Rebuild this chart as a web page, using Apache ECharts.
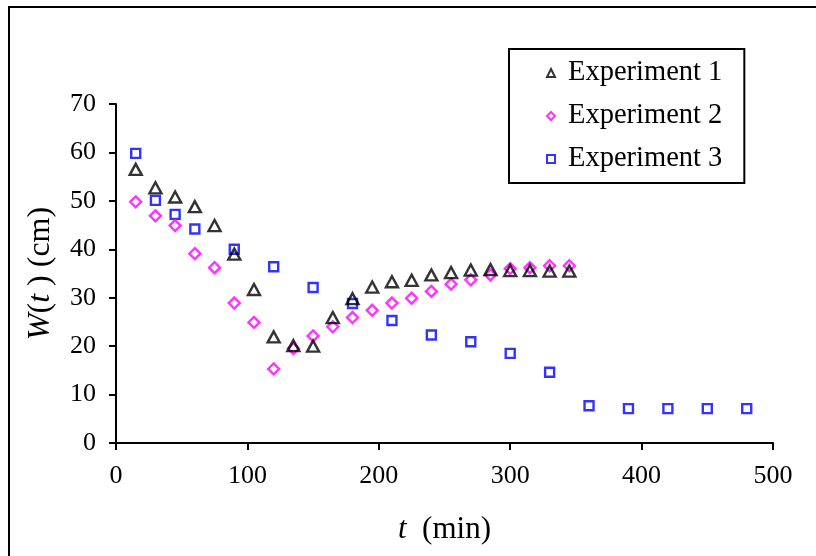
<!DOCTYPE html>
<html>
<head>
<meta charset="utf-8">
<script src="https://cdn.jsdelivr.net/npm/echarts@6/dist/echarts.min.js"></script>
<style>
  html, body { margin: 0; padding: 0; background: #ffffff; }
  #chart { width: 816px; height: 556px; }
</style>
</head>
<body>
<div id="chart"></div>
<script>
// Measured water level W(t) during three runs, t in minutes
const exp1Time = [15, 30, 45, 60, 75, 90, 105, 120, 135, 150, 165, 180, 195, 210, 225, 240, 255, 270, 285, 300, 315, 330, 345];
const exp1W    = [56.5, 52.7, 50.8, 48.8, 44.9, 39.0, 31.7, 21.9, 20.1, 20.0, 25.9, 29.8, 32.2, 33.3, 33.6, 34.7, 35.2, 35.7, 35.8, 35.6, 35.6, 35.5, 35.5];

const exp2Time = [15, 30, 45, 60, 75, 90, 105, 120, 135, 150, 165, 180, 195, 210, 225, 240, 255, 270, 285, 300, 315, 330, 345];
const exp2W    = [49.8, 46.9, 44.9, 39.1, 36.2, 28.9, 24.9, 15.3, 19.5, 22.1, 24.0, 25.9, 27.4, 28.9, 29.9, 31.3, 32.8, 33.7, 34.7, 36.0, 36.2, 36.6, 36.6];

const exp3Time = [15, 30, 45, 60, 90, 120, 150, 180, 210, 240, 270, 300, 330, 360, 390, 420, 450, 480];
const exp3W    = [59.8, 50.1, 47.2, 44.2, 40.0, 36.4, 32.1, 28.8, 25.3, 22.3, 20.9, 18.5, 14.6, 7.7, 7.1, 7.1, 7.1, 7.1];

const seriesNames = ['Experiment 1', 'Experiment 2', 'Experiment 3'];
const xTicks = [0, 100, 200, 300, 400, 500];
const yTicks = [0, 10, 20, 30, 40, 50, 60, 70];

const pairs = (xs, ys) => xs.map((x, i) => [x, ys[i]]);
const serif = '"Liberation Serif", "Times New Roman", serif';
const hollow = c => ({ color: 'rgba(0,0,0,0)', borderColor: c, borderWidth: 2.4 });

const chart = echarts.init(document.getElementById('chart'), null, { renderer: 'canvas' });

chart.setOption({
  backgroundColor: '#ffffff',
  animation: false,
  graphic: [{
    type: 'rect',
    shape: { x: 9, y: 7, width: 1000, height: 1000 },
    style: { fill: 'none', stroke: '#000', lineWidth: 2 },
    silent: true,
    z: 0
  }],
  grid: { left: 116, right: 43, top: 104, bottom: 113, containLabel: false },
  xAxis: {
    type: 'value',
    min: xTicks[0], max: xTicks[xTicks.length - 1], interval: 100,
    name: '{i|t}  (min)',
    nameLocation: 'middle',
    nameGap: 71,
    nameTextStyle: {
      fontFamily: serif, fontSize: 31, color: '#000',
      rich: { i: { fontFamily: serif, fontSize: 31, fontStyle: 'italic', color: '#000' } }
    },
    axisLine: { show: true, lineStyle: { color: '#000', width: 2 } },
    axisTick: { show: true, inside: false, length: 7, lineStyle: { color: '#000', width: 2 } },
    axisLabel: { margin: 20, fontFamily: serif, fontSize: 26, color: '#000' },
    splitLine: { show: false }
  },
  yAxis: {
    type: 'value',
    min: yTicks[0], max: yTicks[yTicks.length - 1], interval: 10,
    name: '{i|W}({i|t} ) (cm)',
    nameLocation: 'middle',
    nameGap: 59,
    nameTextStyle: {
      fontFamily: serif, fontSize: 32, color: '#000',
      rich: { i: { fontFamily: serif, fontSize: 32, fontStyle: 'italic', color: '#000' } }
    },
    axisLine: { show: true, lineStyle: { color: '#000', width: 2 } },
    axisTick: { show: true, inside: false, length: 7, lineStyle: { color: '#000', width: 2 } },
    axisLabel: { margin: 20, fontFamily: serif, fontSize: 26, color: '#000' },
    splitLine: { show: false }
  },
  legend: {
    orient: 'vertical',
    left: 509, top: 49,
    padding: [9, 22, 9, 37],
    itemGap: 13,
    itemWidth: 8, itemHeight: 8,
    borderColor: '#000', borderWidth: 2,
    backgroundColor: '#fff',
    textStyle: { fontFamily: serif, fontSize: 28.5, color: '#000', lineHeight: 30, padding: [0, 0, 0, 8] },
    data: seriesNames
  },
  series: [
    {
      name: seriesNames[0], type: 'scatter',
      symbol: 'triangle', symbolSize: [12, 11],
      itemStyle: hollow('#000000'),
      data: pairs(exp1Time, exp1W), z: 3
    },
    {
      name: seriesNames[1], type: 'scatter',
      symbol: 'diamond', symbolSize: [11, 11],
      itemStyle: hollow('#ff00ff'),
      data: pairs(exp2Time, exp2W), z: 2
    },
    {
      name: seriesNames[2], type: 'scatter',
      symbol: 'rect', symbolSize: [9, 9],
      itemStyle: hollow('#0000ff'),
      data: pairs(exp3Time, exp3W), z: 1
    }
  ]
});
</script>
</body>
</html>
